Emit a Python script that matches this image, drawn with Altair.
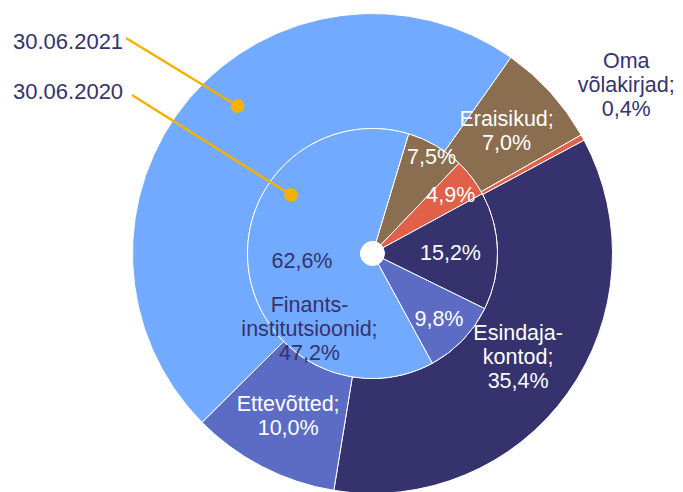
import math
import altair as alt
import pandas as pd

# ---- data ----
categories = ["Eraisikud", "Oma võlakirjad", "Esindajakontod", "Ettevõtted", "Finantsinstitutsioonid"]
label_names = ["Eraisikud;", "Oma\nvõlakirjad;", "Esindaja-\nkontod;", "Ettevõtted;", "Finants-\ninstitutsioonid;"]
values_2021 = [7.0, 0.4, 35.4, 10.0, 47.2]
values_2020 = [7.5, 4.9, 15.2, 9.8, 62.6]
series = ["30.06.2021", "30.06.2020"]

# ---- styling / layout ----
colors = ["#8B6E50", "#E0604A", "#36326E", "#5C6CC4", "#72AAFF"]
NAVY = "#36326E"
GOLD = "#F5B000"
FONT = "Liberation Sans"
CX, CY = 364.5, 245.5
R_OUT, R_MID, R_HOLE = 240, 125, 12
START_OUT, START_IN = 35.2, 16.8  # degrees, clockwise from 12 o'clock
LINE_H = 24

outer_label_r = [181, 304, 179, 184, 99]
outer_label_shift = [0, -4.55, 0, 0, -90.7]
outer_text_color = ["white", NAVY, "white", "white", NAVY]
inner_label_r = [112, 97, 78, 94, 71]
inner_label_shift = [1.5, 1.2, 1.5, 1.2, -1.0]
inner_text_color = ["white", "white", "white", "white", NAVY]


def fmt(v):
    return f"{v:.1f}".replace(".", ",") + "%"


def ring_df(values, names, radii, shifts, tcolors):
    return pd.DataFrame({
        "category": categories,
        "value": values,
        "ord": list(range(len(categories))),
        "label": [(n + "\n" if n else "") + fmt(v) for n, v in zip(names, values)],
        "r": radii,
        "shift": shifts,
        "tcolor": tcolors,
    })


df_out = ring_df(values_2021, label_names, outer_label_r, outer_label_shift, outer_text_color)
df_in = ring_df(values_2020, [""] * 5, inner_label_r, inner_label_shift, inner_text_color)

color_enc = alt.Color("category:N", scale=alt.Scale(domain=categories, range=colors), legend=None)


def ring(df, start_deg, r_outer, r_inner):
    a0 = math.radians(start_deg)
    arcs = alt.Chart(df).mark_arc(
        radius=r_outer, radius2=r_inner, stroke="white", strokeWidth=1
    ).encode(
        theta=alt.Theta("value:Q", stack=True,
                        scale=alt.Scale(domain=[0, 100], range=[a0, a0 + 2 * math.pi])),
        order=alt.Order("ord:Q"),
        color=color_enc,
        x=alt.value(CX),
        y=alt.value(CY),
    )
    texts = alt.Chart(df).transform_window(
        cum="sum(value)", sort=[alt.SortField("ord")], frame=[None, 0]
    ).transform_calculate(
        ang=f"({start_deg} + (datum.cum - datum.value/2)*3.6 + datum.shift)*PI/180",
        nl="length(split(datum.label, '\\n'))",
    ).transform_calculate(
        tx=f"{CX} + datum.r*sin(datum.ang)",
        ty=f"{CY} - datum.r*cos(datum.ang) - (datum.nl - 1)*{LINE_H}/2",
    ).mark_text(
        font=FONT, fontSize=21.5, lineBreak="\n", lineHeight=LINE_H,
        align="center", baseline="middle"
    ).encode(
        x=alt.X("tx:Q", scale=None),
        y=alt.Y("ty:Q", scale=None),
        text="label:N",
        color=alt.Color("tcolor:N", scale=None),
    )
    return arcs, texts


out_arcs, out_texts = ring(df_out, START_OUT, R_OUT, R_MID)
in_arcs, in_texts = ring(df_in, START_IN, R_MID, R_HOLE)

# ---- series annotations (callouts) ----
callouts = [
    # text x, baseline y, line start, line end (dot)
    (series[0], 5, 41, (118, 30), (229.5, 98)),
    (series[1], 5, 91, (124, 87), (283, 187)),
]
ann_layers = []
for name, tx, ty, (x1, y1), (x2, y2) in callouts:
    d = pd.DataFrame({"s": [name]})
    ann_layers.append(alt.Chart(d).mark_text(
        font=FONT, fontSize=22, align="left", baseline="alphabetic", color=NAVY
    ).encode(x=alt.value(tx), y=alt.value(ty), text="s:N"))
    ann_layers.append(alt.Chart(d).mark_rule(color=GOLD, strokeWidth=2.5).encode(
        x=alt.value(x1), y=alt.value(y1), x2=alt.value(x2), y2=alt.value(y2)))
    ann_layers.append(alt.Chart(d).mark_point(
        filled=True, color=GOLD, opacity=1, size=190, shape="circle"
    ).encode(x=alt.value(x2), y=alt.value(y2)))

chart = alt.layer(
    out_arcs, in_arcs, out_texts, in_texts, *ann_layers
).resolve_scale(
    theta="independent"
).properties(
    width=667, height=484, padding=0,
    autosize=alt.AutoSizeParams(type="none"),
).configure_view(stroke=None)

chart.save("out.html", embed_options={"renderer": "svg", "actions": False})
